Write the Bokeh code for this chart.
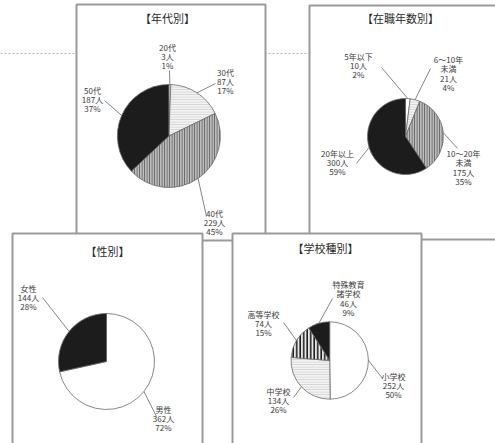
import math
from bokeh.plotting import figure
from bokeh.models import ColumnDataSource, Range1d
from bokeh.core.properties import value
from bokeh.embed import file_html
from bokeh.resources import INLINE

# ---------------- data ----------------
age_titles = "【年代別】"
age_labels = ["20代", "30代", "40代", "50代"]
age_counts = [3, 87, 229, 187]
age_pcts = [1, 17, 45, 37]

tenure_title = "【在職年数別】"
tenure_labels = ["5年以下", "6～10年\n未満", "10～20年\n未満", "20年以上"]
tenure_counts = [10, 21, 175, 300]
tenure_pcts = [2, 4, 35, 59]

gender_title = "【性別】"
gender_labels = ["男性", "女性"]
gender_counts = [362, 144]
gender_pcts = [72, 28]

school_title = "【学校種別】"
school_labels = ["小学校", "中学校", "高等学校", "特殊教育\n諸学校"]
school_counts = [252, 134, 74, 46]
school_pcts = [50, 26, 15, 9]

# ---------------- layout / style ----------------
W, H = 495, 443
FONT = "Noto Sans CJK JP"
TXT = "#3a3a3a"
BORDER = "#9a9a9a"


def Y(v):
    return H - v


# slice styles: (fill, hatch, hatch_color, hatch_weight, hatch_scale)
WHITE = ("white", " ", "white", 1, 4)
LIGHT = ("#f4f4f4", "horizontal_line", "#c8c8c8", 0.8, 2.5)
STRIPE = ("#bdbdbd", "vertical_line", "#5a5a5a", 1.0, 2.5)
BOLD = ("#e8e8e8", "vertical_line", "#1a1a1a", 1.6, 3.5)
BLACK = ("#1c1c1c", " ", "#1c1c1c", 1, 4)

panels = [
    dict(box=(76, 265, 4, 240), title=age_titles, title_xy=(167, 17), center=(168.4, 135.5), r=51.5,
         labels=age_labels, counts=age_counts, pcts=age_pcts,
         styles=[WHITE, LIGHT, STRIPE, BLACK],
         label_xy=[(167, 56), (225, 81), (214, 222), (92, 99)],
         leader_end=[(169, 70), (215, 83), (206, 216), (104, 100)]),
    dict(box=(309, 520, 5, 239), title=tenure_title, title_xy=(400, 17), center=(405, 136), r=38,
         labels=tenure_labels, counts=tenure_counts, pcts=tenure_pcts,
         styles=[WHITE, LIGHT, STRIPE, BLACK],
         label_xy=[(358, 65), (448, 73), (463, 167), (337, 162)],
         leader_end=[(381, 67), (430, 68), (457, 148), (356, 163)]),
    dict(box=(12, 202, 233, 450), title=gender_title, title_xy=(107, 250), center=(106, 361), r=48,
         labels=gender_labels, counts=gender_counts, pcts=gender_pcts,
         styles=[WHITE, BLACK],
         label_xy=[(163, 418), (28, 297)],
         leader_end=[(156, 416), (42, 297)]),
    dict(box=(232, 421, 233, 450), title=school_title, title_xy=(325, 247), center=(329.2, 360), r=38.7,
         labels=school_labels, counts=school_counts, pcts=school_pcts,
         styles=[WHITE, LIGHT, BOLD, BLACK],
         label_xy=[(393, 385), (278, 400), (263, 323), (348, 298)],
         leader_end=[(382, 378), (293, 397), (283, 322), (332, 298)]),
]

p = figure(width=W, height=H, x_range=Range1d(0, W), y_range=Range1d(0, H),
           output_backend="svg", toolbar_location=None, min_border=0,
           x_axis_type=None, y_axis_type=None)
p.grid.visible = False
p.outline_line_color = None
p.background_fill_color = "white"
p.border_fill_color = "white"

# dotted guide line behind the panels
p.line([0, W], [Y(53), Y(53)], line_color="#b0b0b0", line_dash="2 2", line_width=1)

for pn in panels:
    l, r_, t, b = pn["box"]
    p.quad(left=[l], right=[r_], top=[Y(t)], bottom=[Y(b)], fill_color="white",
           line_color=BORDER, line_width=2)
    p.text(x=[pn["title_xy"][0]], y=[Y(pn["title_xy"][1])], text=[pn["title"]],
           text_font=value(FONT), text_font_size="11px", text_color="#2a2a2a",
           text_align="center", text_baseline="middle")

    counts = pn["counts"]
    total = sum(counts)
    cx, cy = pn["center"]
    starts, ends, mids = [], [], []
    acc = 0
    for c in counts:
        f0 = acc / total
        acc += c
        f1 = acc / total
        starts.append(math.pi / 2 - 2 * math.pi * f0)
        ends.append(math.pi / 2 - 2 * math.pi * f1)
        mids.append(math.pi / 2 - 2 * math.pi * (f0 + f1) / 2)
    st = pn["styles"]
    src = ColumnDataSource(dict(
        x=[cx] * len(counts), y=[Y(cy)] * len(counts),
        start=starts, end=ends,
        fill=[s[0] for s in st], hatch=[s[1] for s in st], hcol=[s[2] for s in st],
        hw=[s[3] for s in st], hs=[s[4] for s in st]))
    p.wedge(x="x", y="y", radius=pn["r"], start_angle="start", end_angle="end",
            direction="clock", source=src, fill_color="fill", hatch_pattern="hatch",
            hatch_color="hcol", hatch_weight="hw", hatch_scale="hs",
            line_color="#6a6a6a", line_width=0.8)
    # leader lines from slice midpoint on the rim
    xs, ys = [], []
    for m, (ex, ey) in zip(mids, pn["leader_end"]):
        xs.append([cx + pn["r"] * math.cos(m), ex])
        ys.append([Y(cy) + pn["r"] * math.sin(m), Y(ey)])
    p.multi_line(xs=xs, ys=ys, line_color="#666666", line_width=0.8)

    texts = [f"{lab}\n{c}人\n{pc}%" for lab, c, pc in zip(pn["labels"], counts, pn["pcts"])]
    p.text(x=[q[0] for q in pn["label_xy"]], y=[Y(q[1]) for q in pn["label_xy"]], text=texts,
           text_font=value(FONT), text_font_size="8px", text_color=TXT,
           text_align="center", text_baseline="middle", text_line_height=0.82)

open("out.html", "w").write(file_html(p, INLINE))
